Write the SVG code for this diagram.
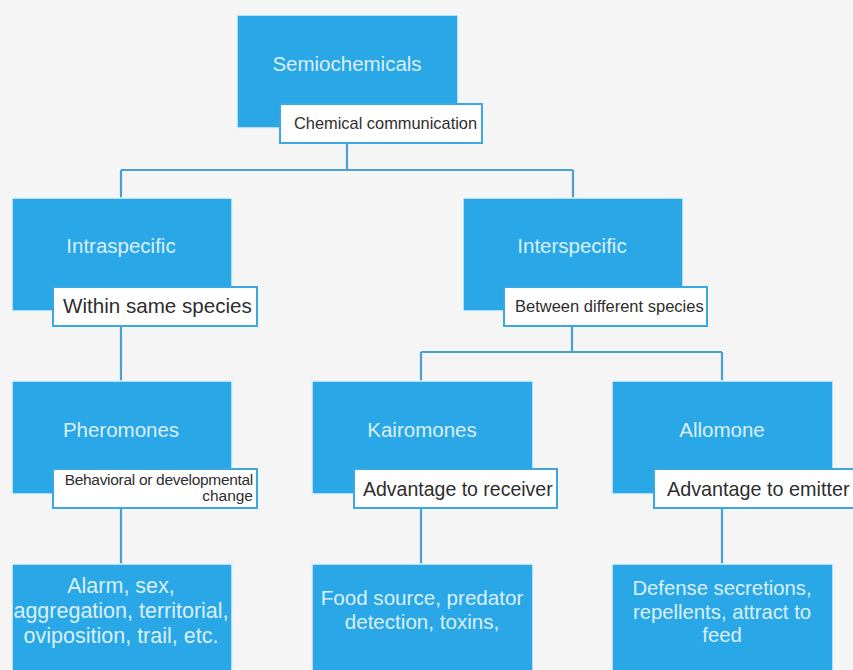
<svg xmlns="http://www.w3.org/2000/svg" width="853" height="670" viewBox="0 0 853 670">
<style>
.bg{fill:#f5f5f5}
.box{fill:#2aa7e6;stroke:#e6f2f9;stroke-width:1.5}
.lab{fill:#ffffff;stroke:#3aa8e3;stroke-width:2}
.t{font-family:"Liberation Sans",Arial,sans-serif;fill:#d9f0fc;text-anchor:middle}
.l{font-family:"Liberation Sans",Arial,sans-serif;fill:#2e2e2e}
.c{fill:none;stroke:#4a9fd6;stroke-width:2.2}
</style>
<rect class="bg" x="0" y="0" width="853" height="670"/>
<g id="connectors">
<path class="c" d="M347 143 V170 M121 170 H573 M121 170 V198 M573 170 V198"/>
<path class="c" d="M121 326 V381"/>
<path class="c" d="M572 326 V352 M421 352 H722 M421 352 V381 M722 352 V381"/>
<path class="c" d="M121 508 V564 M421 508 V564 M722 508 V564"/>
</g>
<g id="semiochemicals">
<rect class="box" x="237" y="15" width="221" height="113"/>
<text class="t" x="347" y="71" font-size="20.5">Semiochemicals</text>
<rect class="lab" x="280" y="104" width="202" height="39"/>
<text class="l" x="294" y="129" font-size="16.4">Chemical communication</text>
</g>
<g id="intraspecific">
<rect class="box" x="12" y="198" width="220" height="113"/>
<text class="t" x="121" y="253" font-size="20.5">Intraspecific</text>
<rect class="lab" x="53" y="287" width="204" height="39"/>
<text class="l" x="63" y="313" font-size="20.6">Within same species</text>
</g>
<g id="interspecific">
<rect class="box" x="463" y="198" width="220" height="113"/>
<text class="t" x="572" y="253" font-size="20.5">Interspecific</text>
<rect class="lab" x="504" y="287" width="203" height="39"/>
<text class="l" x="515" y="312" font-size="16.5">Between different species</text>
</g>
<g id="pheromones">
<rect class="box" x="12" y="381" width="220" height="113"/>
<text class="t" x="121" y="437" font-size="20.5">Pheromones</text>
<rect class="lab" x="53" y="469" width="204" height="39"/>
<text class="l" x="253" y="485" font-size="15.5" text-anchor="end" letter-spacing="-0.3">Behavioral or developmental</text>
<text class="l" x="253" y="501" font-size="15.5" text-anchor="end">change</text>
</g>
<g id="kairomones">
<rect class="box" x="312" y="381" width="221" height="113"/>
<text class="t" x="422" y="437" font-size="20.5">Kairomones</text>
<rect class="lab" x="354" y="469" width="203" height="39"/>
<text class="l" x="363" y="496" font-size="19.5">Advantage to receiver</text>
</g>
<g id="allomone">
<rect class="box" x="612" y="381" width="221" height="113"/>
<text class="t" x="722" y="437" font-size="20.5">Allomone</text>
<rect class="lab" x="654" y="469" width="210" height="39"/>
<text class="l" x="667" y="496" font-size="19.8">Advantage to emitter</text>
</g>
<g id="pheromone-examples">
<rect class="box" x="12" y="564" width="220" height="120"/>
<text class="t" x="121" y="593" font-size="21.5">Alarm, sex,</text>
<text class="t" x="121" y="618" font-size="21.5">aggregation, territorial,</text>
<text class="t" x="121" y="643" font-size="21.5">oviposition, trail, etc.</text>
</g>
<g id="kairomone-examples">
<rect class="box" x="312" y="564" width="221" height="120"/>
<text class="t" x="422" y="605" font-size="20.6">Food source, predator</text>
<text class="t" x="422" y="629" font-size="20.6">detection, toxins,</text>
</g>
<g id="allomone-examples">
<rect class="box" x="612" y="564" width="221" height="120"/>
<text class="t" x="722" y="595" font-size="20.3">Defense secretions,</text>
<text class="t" x="722" y="619" font-size="20.3">repellents, attract to</text>
<text class="t" x="722" y="642" font-size="20.3">feed</text>
</g>
</svg>
